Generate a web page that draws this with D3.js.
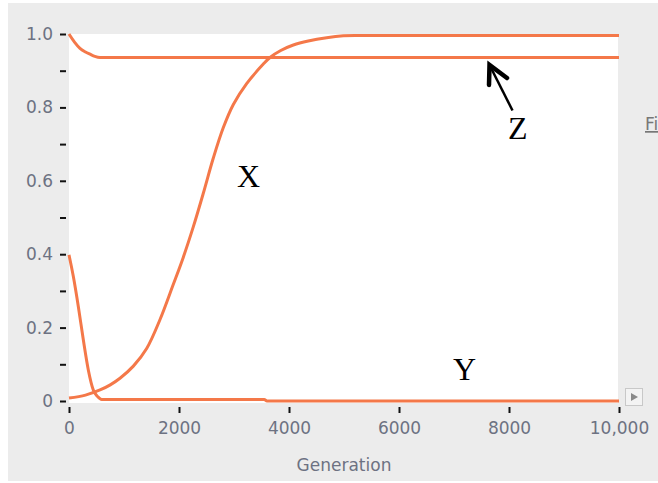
<!DOCTYPE html>
<html>
<head>
<meta charset="utf-8">
<script src="https://cdn.jsdelivr.net/npm/d3@7"></script>
<style>
  body { margin: 0; background: #fff; }
  svg { display: block; }
</style>
</head>
<body>
<script>
// data (generation, frequency)
const xGen = [0, 300, 564, 750, 927, 1170, 1412, 1655, 1897, 2079, 2261, 2442, 2624, 2806, 2988, 3230, 3533, 3655, 3850, 4079, 4350, 4685, 4988, 5300, 7500, 10000];
const xVal = [0.008, 0.016, 0.03, 0.044, 0.062, 0.095, 0.143, 0.222, 0.318, 0.392, 0.475, 0.566, 0.662, 0.745, 0.808, 0.865, 0.918, 0.936, 0.955, 0.970, 0.981, 0.99, 0.995, 0.996, 0.996, 0.996];

const yGen = [0, 79, 170, 261, 352, 442, 520, 594, 3550, 3600, 10000];
const yVal = [0.398, 0.339, 0.257, 0.166, 0.084, 0.03, 0.012, 0.004, 0.004, 0, 0];

const zGen = [0, 100, 200, 300, 382, 470, 564, 10000];
const zVal = [1.0, 0.978, 0.961, 0.951, 0.945, 0.939, 0.936, 0.936];

const xTicks = [0, 2000, 4000, 6000, 8000, 10000];
const yTicks = [0, 0.2, 0.4, 0.6, 0.8, 1.0];
const yMinor = [0.1, 0.3, 0.5, 0.7, 0.9];

const w = 658, h = 483;

const svg = d3.select("body").append("svg")
  .attr("width", w)
  .attr("height", h);

// grey panel
svg.append("rect")
  .attr("x", 8).attr("y", 3)
  .attr("width", w - 8).attr("height", h - 5)
  .attr("fill", "#ececec");

const xScale = d3.scaleLinear().domain([0, 10000]).range([69, 619]);
const yScale = d3.scaleLinear().domain([0, 1]).range([401, 34]);

// white plot area
svg.append("rect")
  .attr("x", xScale(0)).attr("y", yScale(1))
  .attr("width", xScale(10000) - xScale(0) - 1)
  .attr("height", yScale(0) - yScale(1) + 2)
  .attr("fill", "#fff");

const tickColor = "#6d7282";
const font = "'DejaVu Sans', sans-serif";

// y axis ticks
const yAxis = d3.axisLeft(yScale)
  .tickValues(yTicks.concat(yMinor))
  .tickSize(6)
  .tickPadding(7)
  .tickFormat(d => yTicks.includes(d) ? (d === 0 ? "0" : d3.format(".1f")(d)) : "");

svg.append("g")
  .attr("transform", "translate(66,0)")
  .call(yAxis)
  .call(g => g.select(".domain").remove())
  .call(g => g.selectAll("line").attr("stroke", "#111").attr("stroke-width", 2))
  .call(g => g.selectAll("text")
    .attr("fill", tickColor)
    .style("font-family", font)
    .style("font-size", "17px"));

// x axis ticks
const xAxis = d3.axisBottom(xScale)
  .tickValues(xTicks)
  .tickSize(6)
  .tickPadding(9)
  .tickFormat(d => d === 10000 ? "10,000" : String(d));

svg.append("g")
  .attr("transform", "translate(0,407)")
  .call(xAxis)
  .call(g => g.select(".domain").remove())
  .call(g => g.selectAll("line").attr("stroke", "#111").attr("stroke-width", 2))
  .call(g => g.selectAll("text")
    .attr("fill", tickColor)
    .style("font-family", font)
    .style("font-size", "17px"));

svg.append("text")
  .attr("x", (xScale(0) + xScale(10000)) / 2)
  .attr("y", 471)
  .attr("text-anchor", "middle")
  .attr("fill", tickColor)
  .style("font-family", font)
  .style("font-size", "17px")
  .text("Generation");

// curves
const lineFor = curve => d3.line()
  .x(d => xScale(d[0]))
  .y(d => yScale(d[1]))
  .curve(curve);

const series = [
  { pts: d3.zip(zGen, zVal), curve: d3.curveMonotoneX },
  { pts: d3.zip(xGen, xVal), curve: d3.curveCatmullRom.alpha(0.5) },
  { pts: d3.zip(yGen, yVal), curve: d3.curveMonotoneX }
];

svg.selectAll("path.curve")
  .data(series)
  .enter()
  .append("path")
  .attr("class", "curve")
  .attr("d", s => lineFor(s.curve)(s.pts))
  .attr("fill", "none")
  .attr("stroke", "#f47849")
  .attr("stroke-width", 3);

// hand-written labels
const serif = "'Liberation Serif', 'Times New Roman', serif";
svg.append("text").attr("x", 237).attr("y", 187).text("X")
  .style("font-family", serif).style("font-size", "32px");
svg.append("text").attr("x", 453).attr("y", 380).text("Y")
  .style("font-family", serif).style("font-size", "32px");
svg.append("text").attr("x", 508).attr("y", 139).text("Z")
  .style("font-family", serif).style("font-size", "32px");

// arrow pointing at Z
svg.append("path")
  .attr("d", "M512.5,110.5 L489,64")
  .attr("stroke", "#000").attr("stroke-width", 2.5).attr("fill", "none");
svg.append("path")
  .attr("d", "M489,85 L489.5,65 L507,78")
  .attr("stroke", "#000").attr("stroke-width", 4.5)
  .attr("stroke-linecap", "round").attr("stroke-linejoin", "miter")
  .attr("fill", "none");

// cut-off link text at the right edge
svg.append("text")
  .attr("x", 645).attr("y", 130)
  .attr("fill", "#777")
  .attr("text-decoration", "underline")
  .style("font-family", font)
  .style("font-size", "17px")
  .text("Fi");

// small play button
svg.append("rect")
  .attr("x", 625.5).attr("y", 388.5)
  .attr("width", 17).attr("height", 17)
  .attr("fill", "#f3f3f3").attr("stroke", "#c8c8c8");
svg.append("path")
  .attr("d", "M631,393 L638,397 L631,401 Z")
  .attr("fill", "#8a8a8a");
</script>
</body>
</html>
